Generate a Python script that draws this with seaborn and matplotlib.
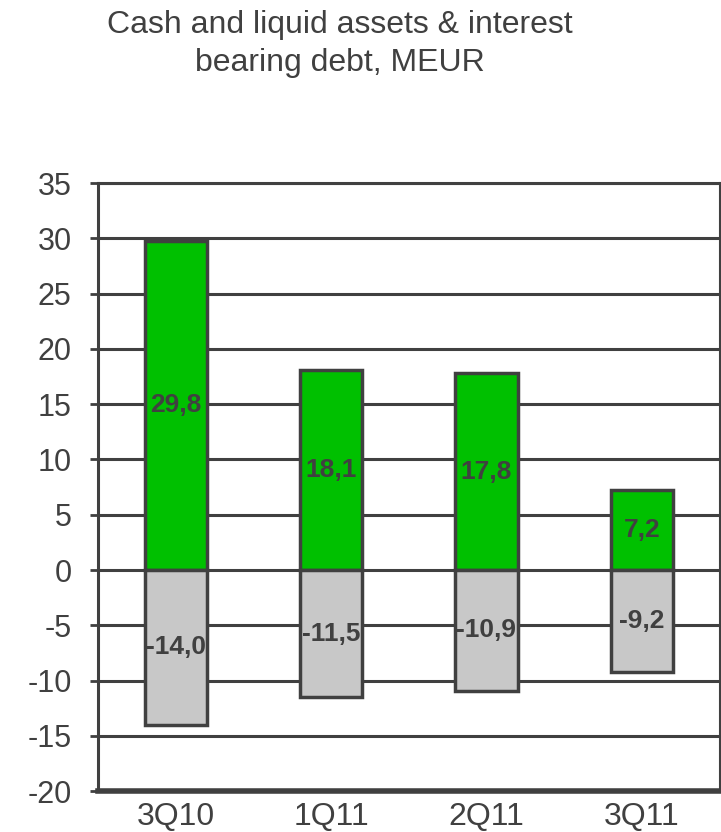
import matplotlib
matplotlib.use("Agg")
import matplotlib.pyplot as plt
import seaborn as sns
import pandas as pd

quarters = ["3Q10", "1Q11", "2Q11", "3Q11"]
cash = [29.8, 18.1, 17.8, 7.2]
debt = [-14.0, -11.5, -10.9, -9.2]
y_ticks = [35, 30, 25, 20, 15, 10, 5, 0, -5, -10, -15, -20]

sns.set_theme(style="white")
plt.rcParams["font.family"] = ["Liberation Sans", "DejaVu Sans"]

dark = "#404040"
fig = plt.figure(figsize=(7.21, 8.32), dpi=100)
ax = fig.add_axes([0.136, 0.049, 0.862, 0.731])

df = pd.DataFrame({
    "quarter": quarters * 2,
    "value": cash + debt,
    "kind": ["cash"] * 4 + ["debt"] * 4,
})

for kind, color in [("cash", "#00C000"), ("debt", "#C8C8C8")]:
    sub = df[df["kind"] == kind]
    sns.barplot(data=sub, x="quarter", y="value", order=quarters, color=color,
                width=0.4, edgecolor=dark, linewidth=2.5, ax=ax, zorder=3,
                saturation=1)

for i, (c, d) in enumerate(zip(cash, debt)):
    ax.text(i, c / 2, f"{c:.1f}".replace(".", ","), ha="center", va="center",
            fontsize=19, fontweight="bold", color=dark, zorder=4)
    ax.text(i, d / 2, f"{d:.1f}".replace(".", ","), ha="center", va="center",
            fontsize=19, fontweight="bold", color=dark, zorder=4)

ax.set_ylim(-20, 35)
ax.set_xlim(-0.5, 3.5)
ax.set_yticks(y_ticks)
ax.set_yticklabels([str(t) for t in y_ticks])
ax.yaxis.grid(True, color=dark, linewidth=2.2, zorder=0)
ax.set_axisbelow(True)
ax.set_xlabel("")
ax.set_ylabel("")

for side in ["left", "right", "top"]:
    ax.spines[side].set_color(dark)
    ax.spines[side].set_linewidth(2.2)
ax.spines["bottom"].set_color(dark)
ax.spines["bottom"].set_linewidth(4)
ax.spines["right"].set_linewidth(1.5)

ax.tick_params(axis="y", length=6, width=2, color=dark, labelsize=22,
               labelcolor=dark, pad=13, left=True)
ax.tick_params(axis="x", length=0, labelsize=23, labelcolor=dark, pad=8)

fig.text(0.471, 0.947, "Cash and liquid assets & interest\nbearing debt, MEUR",
         ha="center", va="center", fontsize=23, color=dark, linespacing=1.36)

fig.savefig("out.png", dpi=100)
